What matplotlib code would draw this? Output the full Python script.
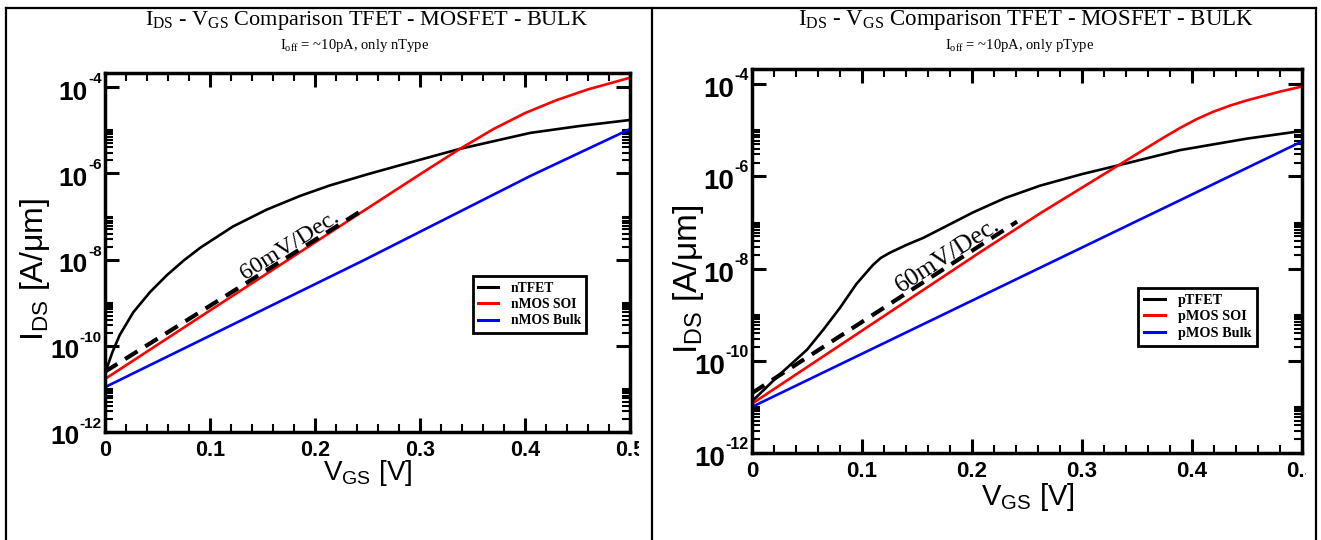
import numpy as np
import matplotlib
matplotlib.use('Agg')
import matplotlib.pyplot as plt
from matplotlib.lines import Line2D
from matplotlib.ticker import FixedLocator, FuncFormatter, MultipleLocator, NullFormatter
from matplotlib.transforms import Bbox, TransformedBbox

plt.rcParams['mathtext.fontset'] = 'custom'
plt.rcParams['mathtext.rm'] = 'Liberation Serif'
plt.rcParams['mathtext.sf'] = 'Liberation Sans'
plt.rcParams['mathtext.bf'] = 'Liberation Sans:bold'
plt.rcParams['mathtext.it'] = 'Liberation Serif:italic'

# ---------------- data (log10 of I_DS in A/um) ----------------
# left panel: n-type
n_tfet_vgs = [0.0, 0.007, 0.014, 0.027, 0.043, 0.059, 0.075, 0.091, 0.122, 0.154, 0.186,
              0.214, 0.25, 0.278, 0.338, 0.405, 0.452, 0.5]
n_tfet_log = [-10.64, -10.15, -9.75, -9.22, -8.75, -8.36, -8.02, -7.72, -7.23, -6.84, -6.52,
              -6.28, -6.02, -5.83, -5.43, -5.06, -4.90, -4.76]

n_soi_vgs = [0.0, 0.1, 0.2, 0.3, 0.338, 0.37, 0.40, 0.43, 0.46, 0.5]
n_soi_log = [-10.77, -9.18, -7.60, -6.02, -5.43, -4.97, -4.60, -4.30, -4.05, -3.78]

n_bulk_vgs = [0.0, 0.246, 0.405, 0.5]
n_bulk_log = [-10.96, -8.02, -6.06, -4.97]

n_ref_vgs = [0.0, 0.242]
n_ref_log = [-10.60, -6.90]

# right panel: p-type
p_tfet_vgs = [0.0, 0.025, 0.05, 0.065, 0.08, 0.095, 0.11, 0.117, 0.125, 0.14, 0.156, 0.201,
              0.23, 0.262, 0.3, 0.333, 0.389, 0.45, 0.498]
p_tfet_log = [-10.88, -10.30, -9.76, -9.32, -8.85, -8.33, -7.92, -7.77, -7.66, -7.49, -7.33,
              -6.78, -6.47, -6.20, -5.95, -5.76, -5.43, -5.18, -5.02]

p_soi_vgs = [0.0, 0.207, 0.262, 0.333, 0.374, 0.389, 0.404, 0.419, 0.435, 0.45, 0.48, 0.5]
p_soi_log = [-10.93, -7.65, -6.80, -5.76, -5.16, -4.95, -4.76, -4.60, -4.46, -4.35, -4.16, -4.05]

p_bulk_vgs = [0.0, 0.262, 0.5]
p_bulk_log = [-11.00, -7.98, -5.24]

p_ref_vgs = [0.0, 0.241]
p_ref_log = [-10.70, -6.98]

x_ticks = [0.0, 0.1, 0.2, 0.3, 0.4, 0.5]
y_major_exp = [-12, -10, -8, -6, -4]
y_minor_dec = [-12, -10, -8, -6]

panel_titles = [r'$\mathrm{I_{DS}}$ - $\mathrm{V_{GS}}$ Comparison TFET - MOSFET - BULK'] * 2
panel_subtitles = [r'$\mathrm{I_{off}}$ = ~10pA, only nType', r'$\mathrm{I_{off}}$ = ~10pA, only pType']
legend_n = ['nTFET', 'nMOS SOI', 'nMOS Bulk']
legend_p = ['pTFET', 'pMOS SOI', 'pMOS Bulk']
annot_text = '60mV/Dec.'

W, H = 1321, 540
fig = plt.figure(figsize=(W / 100, H / 100), dpi=100)


def fx(px):
    return px / W


def fy(py):
    return 1 - py / H


ax1 = fig.add_axes([fx(105), fy(432), fx(630) - fx(105), fy(73) - fy(432)])
ax2 = fig.add_axes([fx(752), fy(453), fx(1302) - fx(752), fy(69) - fy(453)])


def style(ax, xtick_fs, base_fs, exp_fs, clip_px):
    ax.set_yscale('log')
    ax.set_xlim(0, 0.5)
    ax.set_ylim(1e-12, 10 ** -3.67)
    ax.xaxis.set_major_locator(FixedLocator(x_ticks))
    ax.xaxis.set_minor_locator(MultipleLocator(0.02))
    ax.yaxis.set_major_locator(FixedLocator([10.0 ** e for e in y_major_exp]))
    minors = [k * 10.0 ** e for e in y_minor_dec for k in range(2, 11)]
    ax.yaxis.set_minor_locator(FixedLocator(minors))
    ax.yaxis.set_minor_formatter(NullFormatter())
    ax.yaxis.set_major_formatter(NullFormatter())
    ax.xaxis.set_minor_formatter(NullFormatter())
    ax.xaxis.set_major_formatter(FuncFormatter(
        lambda v, p: '0' if abs(v) < 1e-9 else '%.1f' % v))
    ax.tick_params(which='both', direction='in', top=True, right=True)
    ax.tick_params(which='major', length=10, width=2.2)
    ax.tick_params(which='minor', length=6, width=1.5)
    ax.tick_params(axis='x', which='major', pad=6)
    for lab in ax.get_xticklabels():
        lab.set_fontfamily('Liberation Sans')
        lab.set_fontweight('bold')
        lab.set_fontsize(xtick_fs)
    for s in ax.spines.values():
        s.set_linewidth(2.5)
    clip = TransformedBbox(Bbox([[0, 0], [clip_px / W, 1]]), fig.transFigure)
    for lab in ax.get_xticklabels():
        lab.set_clip_box(clip)
        lab.set_clip_on(True)
    # y tick labels "10" with a raised exponent
    ytr = ax.get_yaxis_transform()
    base_em = base_fs * 100 / 72.0
    for e in y_major_exp:
        v = 10.0 ** e
        ex = ax.annotate('-%d' % abs(e), xy=(0, v), xycoords=ytr, xytext=(-3, 4),
                         textcoords='offset pixels', ha='right', va='baseline',
                         fontsize=exp_fs, fontweight='bold', family='Liberation Sans',
                         annotation_clip=False)
        ax.annotate('10', xy=(0, v), xycoords=(ex, ytr),
                    xytext=(-0.5, -(3 + 0.358 * base_em)), textcoords='offset pixels',
                    ha='right', va='baseline', fontsize=base_fs, fontweight='bold',
                    family='Liberation Sans', annotation_clip=False)


def curves(ax, tfet, soi, bulk, ref, labels, leg_anchor, leg_fs, ann_xy, ann_fs):
    ax.plot(tfet[0], np.power(10.0, tfet[1]), color='black', lw=1.9, label=labels[0])
    ax.plot(soi[0], np.power(10.0, soi[1]), color='#ff0000', lw=1.9, label=labels[1])
    ax.plot(bulk[0], np.power(10.0, bulk[1]), color='#0000ff', lw=1.9, label=labels[2])
    ax.plot(ref[0], np.power(10.0, ref[1]), color='black', lw=3.0, dashes=(3.5, 2.2))
    p0 = ax.transData.transform((ref[0][0], 10 ** ref[1][0]))
    p1 = ax.transData.transform((ref[0][1], 10 ** ref[1][1]))
    ang = np.degrees(np.arctan2(p1[1] - p0[1], p1[0] - p0[0]))
    ax.text(ann_xy[0], 10 ** ann_xy[1], annot_text, rotation=ang, rotation_mode='anchor',
            ha='center', va='center', family='Liberation Serif', fontsize=ann_fs)
    leg = ax.legend(loc='upper left', bbox_to_anchor=leg_anchor, frameon=True,
                    fancybox=False, framealpha=1, edgecolor='black',
                    prop={'family': 'Liberation Serif', 'weight': 'bold', 'size': leg_fs},
                    handlelength=1.5, handletextpad=0.9, labelspacing=0.25,
                    borderpad=0.4, borderaxespad=0)
    leg.get_frame().set_linewidth(2.0)
    for h in leg.get_lines():
        h.set_linewidth(2.2)


style(ax1, 15.5, 19, 11, 639)
style(ax2, 16, 20, 11.5, 1306)

curves(ax1, (n_tfet_vgs, n_tfet_log), (n_soi_vgs, n_soi_log), (n_bulk_vgs, n_bulk_log),
       (n_ref_vgs, n_ref_log), legend_n, (0.70, 0.434), 9.8, (0.176, -7.66), 17.5)
curves(ax2, (p_tfet_vgs, p_tfet_log), (p_soi_vgs, p_soi_log), (p_bulk_vgs, p_bulk_log),
       (p_ref_vgs, p_ref_log), legend_p, (0.702, 0.43), 10.3, (0.178, -7.72), 18.5)

# titles
fig.text(fx(367), fy(20), panel_titles[0], family='Liberation Serif', fontsize=16,
         ha='center', va='center')
fig.text(fx(1026), fy(20), panel_titles[1], family='Liberation Serif', fontsize=16.5,
         ha='center', va='center')
fig.text(fx(355), fy(45), panel_subtitles[0], family='Liberation Serif', fontsize=10.5,
         ha='center', va='center')
fig.text(fx(1020), fy(45), panel_subtitles[1], family='Liberation Serif', fontsize=10.5,
         ha='center', va='center')

# axis labels
fig.text(fx(368), fy(480), r'$\mathsf{V_{GS}}$ [V]', family='Liberation Sans', fontsize=20,
         ha='center', va='baseline')
fig.text(fx(1028), fy(505), r'$\mathsf{V_{GS}}$ [V]', family='Liberation Sans', fontsize=21,
         ha='center', va='baseline')
fig.text(fx(35), fy(270), r'$\mathsf{I_{DS}}$ [A/μm]', family='Liberation Sans', fontsize=23,
         ha='center', va='center', rotation=90)
fig.text(fx(688), fy(279), r'$\mathsf{I_{DS}}$ [A/μm]', family='Liberation Sans', fontsize=24,
         ha='center', va='center', rotation=90)

# table frame
for (x0, y0, x1, y1) in [(6, 8, 1316, 8), (6, 8, 6, 540), (652, 8, 652, 540), (1316, 8, 1316, 540)]:
    fig.add_artist(Line2D([fx(x0), fx(x1)], [fy(y0), fy(y1)], transform=fig.transFigure,
                          color='black', lw=1.6))

fig.savefig('out.png', dpi=100)
